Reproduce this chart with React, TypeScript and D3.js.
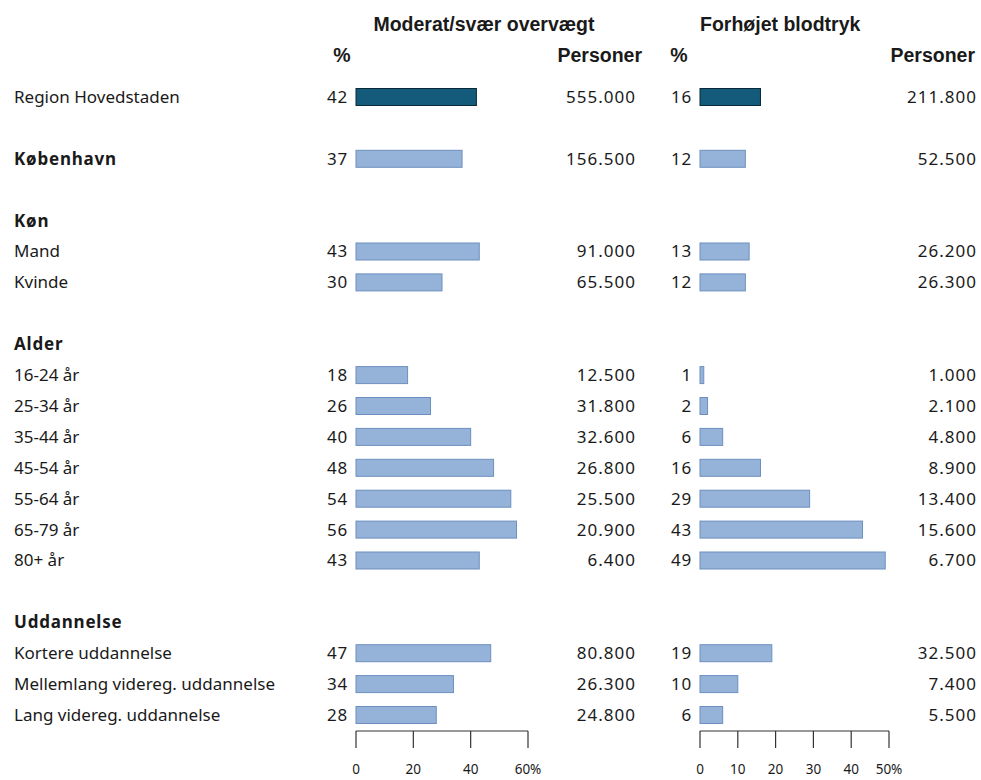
import React from "react";
import * as d3 from "d3";

// Row labels; section headers carry no values
const rowLabels = [
  "Region Hovedstaden", "", "København", "", "Køn", "Mand", "Kvinde", "",
  "Alder", "16-24 år", "25-34 år", "35-44 år", "45-54 år", "55-64 år", "65-79 år", "80+ år", "",
  "Uddannelse", "Kortere uddannelse", "Mellemlang videreg. uddannelse", "Lang videreg. uddannelse",
];
const boldRows = ["København", "Køn", "Alder", "Uddannelse"];
const headerRows = ["Køn", "Alder", "Uddannelse"];

const overweightPct: (number | null)[] = [
  42, null, 37, null, null, 43, 30, null,
  null, 18, 26, 40, 48, 54, 56, 43, null,
  null, 47, 34, 28,
];
const overweightPersons: (string | null)[] = [
  "555.000", null, "156.500", null, null, "91.000", "65.500", null,
  null, "12.500", "31.800", "32.600", "26.800", "25.500", "20.900", "6.400", null,
  null, "80.800", "26.300", "24.800",
];
const bloodPressurePct: (number | null)[] = [
  16, null, 12, null, null, 13, 12, null,
  null, 1, 2, 6, 16, 29, 43, 49, null,
  null, 19, 10, 6,
];
const bloodPressurePersons: (string | null)[] = [
  "211.800", null, "52.500", null, null, "26.200", "26.300", null,
  null, "1.000", "2.100", "4.800", "8.900", "13.400", "15.600", "6.700", null,
  null, "32.500", "7.400", "5.500",
];

const overweightTicks = [0, 20, 40, 60];
const bloodPressureTicks = [0, 10, 20, 30, 40, 50];

const W = 981;
const H = 780;
const bodyFont = "'Noto Sans', 'Open Sans', sans-serif";
const headFont = "'Liberation Sans', Arial, sans-serif";
const darkFill = "#135a7b";
const lightFill = "#95b3d9";
const lightStroke = "#6d8fbf";
const textColor = "#1a1a1a";
const bodySize = 17;

export default function App() {
  const y = d3.scaleLinear().domain([0, rowLabels.length - 1]).range([97, 715]);
  const xLeft = d3.scaleLinear().domain([0, 60]).range([356, 528]);
  const xRight = d3.scaleLinear().domain([0, 50]).range([700, 889]);
  const barH = 17;
  const axisY = 731;

  const panels = [
    { x: xLeft, pct: overweightPct, persons: overweightPersons, ticks: overweightTicks, pctX: 348, persX: 636 },
    { x: xRight, pct: bloodPressurePct, persons: bloodPressurePersons, ticks: bloodPressureTicks, pctX: 692, persX: 977 },
  ];

  return (
    <svg width={W} height={H} style={{ position: "absolute", left: 0, top: 0, background: "#fff" }}>
      <rect width={W} height={H} fill="#fff" />
      {/* Column headers */}
      <g fontFamily={headFont} fill={textColor} fontWeight="bold" fontSize={19.5}>
        <text x={484} y={31} textAnchor="middle">Moderat/svær overvægt</text>
        <text x={700} y={31}>Forhøjet blodtryk</text>
        <text x={342} y={62} textAnchor="middle">%</text>
        <text x={642} y={62} textAnchor="end">Personer</text>
        <text x={679} y={62} textAnchor="middle">%</text>
        <text x={975} y={62} textAnchor="end">Personer</text>
      </g>

      {/* Row labels */}
      <g fontFamily={bodyFont} fill={textColor} fontSize={bodySize}>
        {rowLabels.map((lab, i) =>
          lab ? (
            <text
              key={i}
              x={14}
              y={y(i)}
              dy="0.35em"
              fontWeight={boldRows.includes(lab) ? "bold" : "normal"}
              letterSpacing={boldRows.includes(lab) ? 0.8 : 0}
            >
              {lab}
            </text>
          ) : null
        )}
      </g>

      {panels.map((p, pi) => (
        <g key={pi}>
          {p.pct.map((v, i) =>
            v == null || headerRows.includes(rowLabels[i]) ? null : (
              <g key={i}>
                <text x={p.pctX} y={y(i)} dy="0.35em" textAnchor="end" fontFamily={bodyFont} fontSize={bodySize} letterSpacing={0.8} fill={textColor}>
                  {v}
                </text>
                <rect
                  x={p.x(0)}
                  y={y(i) - barH / 2}
                  width={p.x(v) - p.x(0)}
                  height={barH}
                  fill={i === 0 ? darkFill : lightFill}
                  stroke={i === 0 ? "#0b2a38" : lightStroke}
                  strokeWidth={1}
                />
                <text x={p.persX} y={y(i)} dy="0.35em" textAnchor="end" fontFamily={bodyFont} fontSize={bodySize} letterSpacing={1} fill={textColor}>
                  {p.persons[i]}
                </text>
              </g>
            )
          )}
          {/* Axis */}
          <line x1={p.x(0)} x2={p.x(p.ticks[p.ticks.length - 1])} y1={axisY} y2={axisY} stroke="#333" strokeWidth={1.2} />
          {p.ticks.map((t, ti) => (
            <g key={t}>
              <line x1={p.x(t)} x2={p.x(t)} y1={axisY} y2={axisY + 17} stroke="#333" strokeWidth={1.2} />
              <text x={p.x(t)} y={774} textAnchor="middle" fontFamily={bodyFont} fontSize={13.5} fill={textColor}>
                {ti === p.ticks.length - 1 ? `${t}%` : t}
              </text>
            </g>
          ))}
        </g>
      ))}
    </svg>
  );
}
